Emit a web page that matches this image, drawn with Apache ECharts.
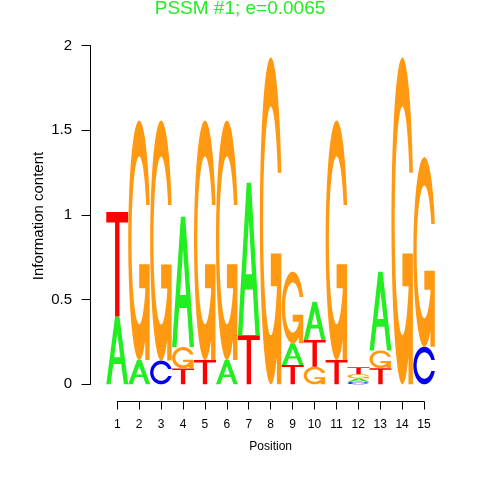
<!DOCTYPE html>
<html>
<head>
<meta charset="utf-8">
<script src="https://cdn.jsdelivr.net/npm/echarts@6/dist/echarts.min.js"></script>
<style>html,body{margin:0;padding:0;background:#fff}#c{width:480px;height:480px}</style>
</head>
<body>
<div id="c"></div>
<script>
// ---- data ----
var positions = [1,2,3,4,5,6,7,8,9,10,11,12,13,14,15];
var letters = ['A','C','G','T'];
var heightA = [0.40, 0.143, 0, 0.77, 0, 0.143, 0.90, 0, 0.128, 0.226, 0, 0.02, 0.465, 0, 0];
var heightC = [0, 0, 0.14, 0, 0, 0, 0, 0, 0, 0, 0, 0.015, 0, 0, 0.222];
var heightG = [0, 1.415, 1.418, 0.126, 1.415, 1.415, 0, 1.93, 0.423, 0.104, 1.415, 0.025, 0.105, 1.93, 1.12];
var heightT = [0.617, 0, 0, 0.094, 0.143, 0, 0.29, 0, 0.114, 0.158, 0.143, 0.04, 0.095, 0, 0];
var yTicks = [0, 0.5, 1, 1.5, 2];
var titleText = 'PSSM #1; e=0.0065';
var xName = 'Position';
var yName = 'Information content';

var colors = {A:'#22ee22', C:'#0000ee', G:'#ff9912', T:'#ff0000'};
var FONT = 'Liberation Sans, Arial, sans-serif';

// ---- letter outlines in unit box (y up) ----
function cShape() {
  var n = 60, i, a;
  var a1s = 0.3 + Math.PI/2;
  var l1x=[], l1y=[], l2x=[], l2y=[];
  for (i=0;i<n;i++){ a = a1s + (Math.PI - a1s)*i/(n-1); l1x.push(0.5+0.5*Math.sin(a)); l1y.push(0.5+0.5*Math.cos(a)); }
  for (i=0;i<n;i++){ a = Math.PI + 0.5*Math.PI*i/(n-1); l2x.push(0.5+0.5*Math.sin(a)); l2y.push(0.5+0.5*Math.cos(a)); }
  var xl = l1x.concat(l2x), yl = l1y.concat(l2y);
  var maxY = Math.max.apply(null, l1y);
  var ox = xl.concat(xl.slice().reverse());
  var oy = yl.concat(yl.slice().reverse().map(function(v){return 1-v;}));
  var i1x=[], i1y=[], i2x=[], i2y=[];
  for (i=0;i<n;i++){ a = a1s + (Math.PI - a1s)*i/(n-1); var yy=0.5+0.35*Math.cos(a); if (yy<=maxY){ i1x.push(0.5+0.35*Math.sin(a)); i1y.push(yy);} }
  i1y[0] = maxY;
  for (i=0;i<n;i++){ a = Math.PI + 0.5*Math.PI*i/(n-1); i2x.push(0.5+0.35*Math.sin(a)); i2y.push(0.5+0.35*Math.cos(a)); }
  var ix = i1x.concat(i2x), iy = i1y.concat(i2y);
  var x1 = ix.concat(ix.slice().reverse());
  var y1 = iy.concat(iy.slice().reverse().map(function(v){return 1-v;}));
  var px = ox.concat(x1.slice().reverse()), py = oy.concat(y1.slice().reverse());
  var pts = [];
  for (i=0;i<px.length;i++) pts.push([px[i],py[i]]);
  return {pts: pts, r1: Math.max.apply(null, l1x)};
}
var cs = cShape();
var shapes = {
  A: [[[0,0],[0.4,1],[0.6,1],[1,0],[0.8,0],[0.68,0.3],[0.32,0.3],[0.2,0]],
      [[0.36,0.4],[0.5,0.75],[0.64,0.4]]],
  C: [cs.pts],
  G: [cs.pts, [[cs.r1,0.4],[0.5,0.4],[0.5,0.3],[cs.r1-0.2,0.3],[cs.r1-0.2,0],[cs.r1,0]]],
  T: [[[0,1],[1,1],[1,0.9],[0.6,0.9],[0.6,0],[0.4,0],[0.4,0.9],[0,0.9]]]
};
function area(p){ var s=0; for (var i=0;i<p.length;i++){ var q=p[(i+1)%p.length]; s+=p[i][0]*q[1]-q[0]*p[i][1]; } return s; }

// ---- build stacked items ----
var heights = {A:heightA, C:heightC, G:heightG, T:heightT};
var items = [];
positions.forEach(function(pos, k){
  var arr = letters.map(function(L, j){ return {L:L, h:heights[L][k], j:j}; })
    .filter(function(o){ return o.h > 0; })
    .sort(function(a,b){ return a.h - b.h || a.j - b.j; });
  var base = 0;
  arr.forEach(function(o){
    items.push({value:[pos, base, base + o.h, letters.indexOf(o.L)]});
    base += o.h;
  });
});

var chart = echarts.init(document.getElementById('c'), null, {renderer:'canvas'});
chart.setOption({
  animation: false,
  backgroundColor: '#ffffff',
  title: {
    text: titleText, left: 'center', top: -1, padding: 0,
    textStyle: {color:'#22ee22', fontSize:19, fontWeight:'normal', fontFamily:FONT}
  },
  graphic: [{
    type: 'text', x: 38.5, y: 216, rotation: Math.PI/2,
    style: {text: yName, fill:'#000', font:'15px "Liberation Sans", Arial, sans-serif', textAlign:'center', textVerticalAlign:'middle'}
  }],
  grid: [
    {left: 106.3, right: 44.7, top: 45.7, bottom: 95.7},
    {left: 117.3, right: 56, top: 400.5, height: 1}
  ],
  xAxis: [
    {gridIndex:0, type:'value', min:0.5, max:15.5, show:false},
    {gridIndex:1, type:'value', min:1, max:15, interval:1, position:'bottom',
     axisLine:{show:true, onZero:false, lineStyle:{color:'#000', width:1}},
     axisTick:{show:true, length:8, lineStyle:{color:'#000'}},
     axisLabel:{color:'#000', fontSize:12, margin:17, fontFamily:FONT},
     splitLine:{show:false},
     name: xName, nameLocation:'middle', nameGap:39,
     nameTextStyle:{color:'#000', fontSize:12, fontFamily:FONT}}
  ],
  yAxis: [
    {gridIndex:0, type:'value', min:0, max:2, interval:0.5, offset:15.8,
     axisLine:{show:true, lineStyle:{color:'#000', width:1}},
     axisTick:{show:true, length:9, lineStyle:{color:'#000'}},
     axisLabel:{color:'#000', fontSize:15, margin:18.5, fontFamily:FONT,
       formatter:function(v){ return yTicks.indexOf(v) >= 0 ? String(v) : ''; }},
     splitLine:{show:false}},
    {gridIndex:1, type:'value', min:0, max:1, show:false}
  ],
  series: [{
    type: 'custom', xAxisIndex:0, yAxisIndex:0, clip:false,
    data: items,
    renderItem: function(params, api){
      var pos = api.value(0), y0 = api.value(1), y1 = api.value(2), li = api.value(3);
      var L = letters[li];
      var p0 = api.coord([pos - 0.5, y0]);
      var p1 = api.coord([pos + 0.5, y1]);
      var w = p1[0] - p0[0], h = p0[1] - p1[1];
      var contours = shapes[L].map(function(c){ return c.map(function(p){ return [p0[0] + p[0]*w, p0[1] - p[1]*h]; }); });
      if (L === 'A') {
        if ((area(contours[0]) > 0) === (area(contours[1]) > 0)) contours[1] = contours[1].slice().reverse();
      } else if (L === 'G') {
        if ((area(contours[0]) > 0) !== (area(contours[1]) > 0)) contours[1] = contours[1].slice().reverse();
      }
      var d = contours.map(function(c){
        return 'M' + c.map(function(p){ return p[0].toFixed(2) + ',' + p[1].toFixed(2); }).join('L') + 'Z';
      }).join('');
      return {type:'path', shape:{pathData:d}, style:{fill: colors[L], stroke:null}};
    }
  }]
});
</script>
</body>
</html>
